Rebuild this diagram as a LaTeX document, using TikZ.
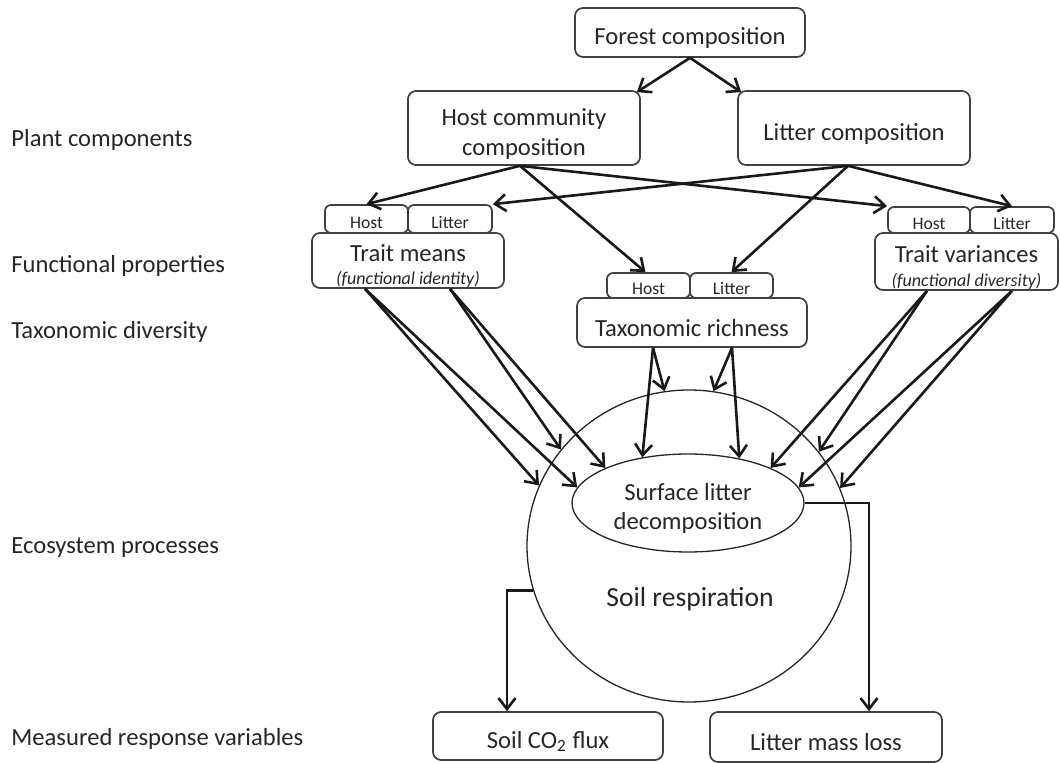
\documentclass[tikz,border=0pt]{standalone}
\usepackage{fontspec}
\setmainfont{Carlito}
\usetikzlibrary{arrows.meta,shapes.geometric}
\newcommand{\topstrut}{\rule{0pt}{14pt}}
\begin{document}
\begin{tikzpicture}[x=0.5pt,y=-0.5pt,
  basebox/.style={draw=black!75, line width=0.85pt, rounded corners=4pt, inner sep=0pt, align=center, text=black!85},
  box/.style={basebox, font=\fontsize{12.3}{15}\selectfont},
  tabbox/.style={basebox, font=\fontsize{8.8}{10}\selectfont, rounded corners=3pt},
  lab/.style={anchor=west, inner sep=0pt, text=black!85, font=\fontsize{12.3}{15}\selectfont},
  arr/.style={line width=1.3pt, black!90, -{Straight Barb[length=5.5pt,width=8.5pt]}},
  ell/.style={ellipse, draw=black!85, line width=0.65pt, inner sep=0pt, align=center, text=black!85}
]
\useasboundingbox (0,0) rectangle (1060,763);

% side labels
\node[lab] (l1) at (11,140) {Plant components};
\node[lab] (l2) at (11,266) {Functional properties};
\node[lab] (l3) at (11,332) {Taxonomic diversity};
\node[lab] (l4) at (11,548) {Ecosystem processes};
\node[lab] (l5) at (11,739) {Measured response variables};

% boxes
\node[box, minimum width=115pt, minimum height=24.5pt] (forest) at (690,32.5) {\topstrut Forest composition};
\node[box, minimum width=116pt, minimum height=37pt] (hc) at (524,128) {\topstrut Host community\\composition};
\node[box, minimum width=116pt, minimum height=37pt] (lc) at (854,128) {\topstrut Litter composition};

\node[tabbox, minimum width=41.5pt, minimum height=14pt] (hostL) at (366.5,219) {\rule{0pt}{9.4pt}Host};
\node[tabbox, minimum width=42pt, minimum height=14pt] (litL) at (450,219) {\rule{0pt}{9.4pt}Litter};
\node[box, minimum width=96pt, minimum height=27.5pt] (tm) at (408,260.5)
  {\topstrut Trait means\\[-3.5pt]{\fontsize{9}{10}\selectfont\itshape (functional identity)}};

\node[tabbox, minimum width=41.5pt, minimum height=12.5pt] (hostM) at (648.5,285.5) {\rule{0pt}{9.4pt}Host};
\node[tabbox, minimum width=41.5pt, minimum height=12.5pt] (litM) at (731.5,285.5) {\rule{0pt}{9.4pt}Litter};
\node[box, minimum width=115pt, minimum height=24.5pt] (tax) at (692,322.5) {\topstrut Taxonomic richness};

\node[tabbox, minimum width=41pt, minimum height=13pt] (hostR) at (929,220) {\rule{0pt}{9.4pt}Host};
\node[tabbox, minimum width=42pt, minimum height=13pt] (litR) at (1012,220) {\rule{0pt}{9.4pt}Litter};
\node[box, minimum width=91.5pt, minimum height=28.5pt] (tv) at (966.5,261.5)
  {\topstrut Trait variances\\[-3pt]{\fontsize{9}{10}\selectfont\itshape (functional diversity)}};

% ecosystem processes
\node[ell, minimum width=162pt, minimum height=156pt] (soil) at (689,546) {};
\node[font=\fontsize{13.8}{16}\selectfont, text=black!85] (soiltxt) at (690,599) {Soil respiration};
\node[ell, minimum width=116pt, minimum height=49pt, font=\fontsize{12.3}{14.5}\selectfont] (dec) at (688,503) {\topstrut Surface litter\\decomposition};

\node[box, minimum width=115pt, minimum height=24pt] (co2) at (548,736) {\topstrut Soil CO\textsubscript{2} flux};
\node[box, minimum width=116pt, minimum height=25pt] (mass) at (826,737) {\topstrut Litter mass loss};

% arrows from forest
\draw[arr] (forest.south) -- ([xshift=-2pt,yshift=-1pt]hc.north east);
\draw[arr] (forest.south) -- ([xshift=2pt,yshift=-1pt]lc.north west);

% host community arrows
\draw[arr] ([xshift=-2pt]hc.south) -- (hostL.north);
\draw[arr] ([xshift=-2pt]hc.south) -- ([xshift=-1.5pt]hostM.north);
\draw[arr] ([xshift=-2pt]hc.south) -- (hostR.north west);
% litter composition arrows
\draw[arr] ([xshift=-3pt]lc.south) -- (litL.north east);
\draw[arr] ([xshift=-3pt]lc.south) -- (litM.north);
\draw[arr] ([xshift=-3pt]lc.south) -- (litR.north);

% trait means arrows
\draw[arr] ([xshift=-21.5pt]tm.south) -- (soil.158.7);
\draw[arr] ([xshift=-21.5pt]tm.south) -- (dec.172.6);
\draw[arr] ([xshift=21pt]tm.south) -- (soil.143.9);
\draw[arr] ([xshift=21pt]tm.south) -- (dec.157.1);

% taxonomic richness arrows
\draw[arr] ([xshift=-19.5pt]tax.south) -- (soil.99.5);
\draw[arr] ([xshift=-19.5pt]tax.south) -- (dec.135.6);
\draw[arr] ([xshift=20pt]tax.south) -- (soil.81.6);
\draw[arr] ([xshift=20pt]tax.south) -- (dec.41.3);

% trait variances arrows
\draw[arr] ([xshift=-19.75pt]tv.south) -- (dec.23.2);
\draw[arr] ([xshift=-19.75pt]tv.south) -- (soil.36.4);
\draw[arr] ([xshift=22.75pt]tv.south) -- (dec.8);
\draw[arr] ([xshift=22.75pt]tv.south) -- (soil.21.3);

% outputs
\draw[arr] (soil.196.4) -| ([xshift=-20.5pt]co2.north);
\draw[arr] (dec.east) -| ([xshift=21.5pt]mass.north);
\end{tikzpicture}
\end{document}
